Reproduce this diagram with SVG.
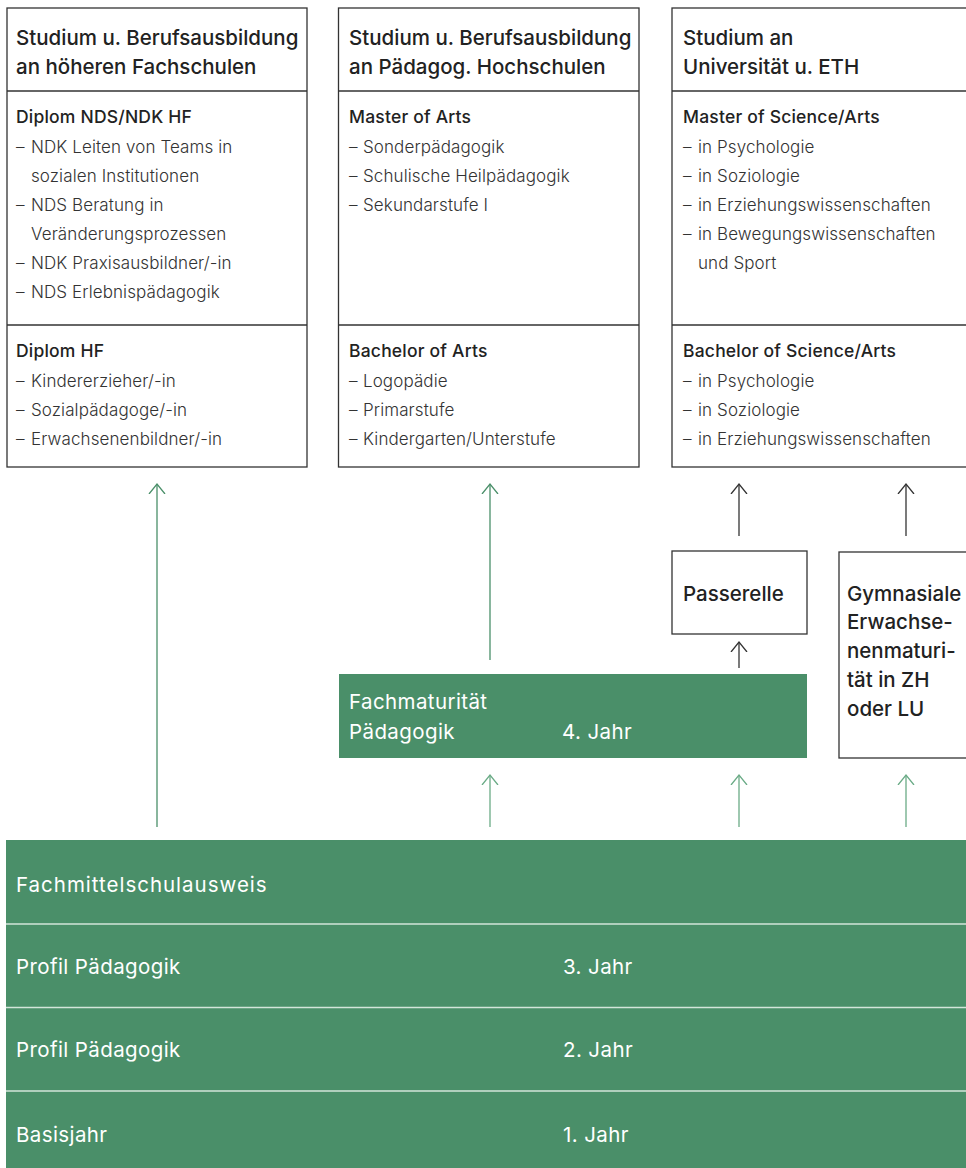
<svg xmlns="http://www.w3.org/2000/svg" width="966" height="1168" viewBox="0 0 966 1168">
<style>
.box{fill:#fff;stroke:#333;stroke-width:1.3}
.div{stroke:#333;stroke-width:1.3}
.ttl{font-family:Inter,"Liberation Sans",sans-serif;font-weight:500;font-size:20.5px;fill:#222}
.sub{font-family:Inter,"Liberation Sans",sans-serif;font-weight:500;font-size:17.5px;letter-spacing:0.2px;fill:#222}
.itm{font-family:Inter,"Liberation Sans",sans-serif;font-weight:300;font-size:17px;letter-spacing:0.1px;fill:#333}
.gtx{font-family:Inter,"Liberation Sans",sans-serif;font-weight:400;font-size:20.5px;letter-spacing:0.4px;fill:#fff}
.grn{fill:#4a8f69}
.sep{stroke:#d3e5da;stroke-width:1.5}
.ag{stroke:#4a8f69;stroke-width:1.3;fill:none}
.agl{stroke:#6aab86;stroke-width:1.3;fill:none}
.ab{stroke:#333;stroke-width:1.3;fill:none}
</style>
<defs>
<marker id="mg" markerUnits="userSpaceOnUse" viewBox="0 0 20 20" markerWidth="20" markerHeight="20" refX="10" refY="10" orient="auto"><path d="M0,2 L10,10 L0,18" fill="none" stroke="#4a8f69" stroke-width="1.3"/></marker>
<marker id="mgl" markerUnits="userSpaceOnUse" viewBox="0 0 20 20" markerWidth="20" markerHeight="20" refX="10" refY="10" orient="auto"><path d="M0,2 L10,10 L0,18" fill="none" stroke="#6aab86" stroke-width="1.3"/></marker>
<marker id="mb" markerUnits="userSpaceOnUse" viewBox="0 0 20 20" markerWidth="20" markerHeight="20" refX="10" refY="10" orient="auto"><path d="M0,2 L10,10 L0,18" fill="none" stroke="#333" stroke-width="1.3"/></marker>
</defs>

<g id="col-hf">
<rect class="box" x="7" y="8" width="300" height="459"/>
<line class="div" x1="7" y1="91" x2="307" y2="91"/>
<line class="div" x1="7" y1="325" x2="307" y2="325"/>
<text class="ttl" x="16" y="45">Studium u. Berufsausbildung</text>
<text class="ttl" x="16" y="74">an höheren Fachschulen</text>
<text class="sub" x="16" y="123">Diplom NDS/NDK HF</text>
<text class="itm" y="153"><tspan x="16">– </tspan><tspan x="31">NDK Leiten von Teams in</tspan></text>
<text class="itm" x="31" y="182">sozialen Institutionen</text>
<text class="itm" y="211"><tspan x="16">– </tspan><tspan x="31">NDS Beratung in</tspan></text>
<text class="itm" x="31" y="240">Veränderungsprozessen</text>
<text class="itm" y="269"><tspan x="16">– </tspan><tspan x="31">NDK Praxisausbildner/-in</tspan></text>
<text class="itm" y="298"><tspan x="16">– </tspan><tspan x="31">NDS Erlebnispädagogik</tspan></text>
<text class="sub" x="16" y="357">Diplom HF</text>
<text class="itm" y="387"><tspan x="16">– </tspan><tspan x="31">Kindererzieher/-in</tspan></text>
<text class="itm" y="416"><tspan x="16">– </tspan><tspan x="31">Sozialpädagoge/-in</tspan></text>
<text class="itm" y="445"><tspan x="16">– </tspan><tspan x="31">Erwachsenenbildner/-in</tspan></text>
</g>

<g id="col-ph">
<rect class="box" x="338.5" y="8" width="300.5" height="459"/>
<line class="div" x1="338.5" y1="91" x2="639" y2="91"/>
<line class="div" x1="338.5" y1="325" x2="639" y2="325"/>
<text class="ttl" x="349" y="45">Studium u. Berufsausbildung</text>
<text class="ttl" x="349" y="74">an Pädagog. Hochschulen</text>
<text class="sub" x="349" y="123">Master of Arts</text>
<text class="itm" y="153"><tspan x="349">– </tspan><tspan x="363">Sonderpädagogik</tspan></text>
<text class="itm" y="182"><tspan x="349">– </tspan><tspan x="363">Schulische Heilpädagogik</tspan></text>
<text class="itm" y="211"><tspan x="349">– </tspan><tspan x="363">Sekundarstufe I</tspan></text>
<text class="sub" x="349" y="357">Bachelor of Arts</text>
<text class="itm" y="387"><tspan x="349">– </tspan><tspan x="363">Logopädie</tspan></text>
<text class="itm" y="416"><tspan x="349">– </tspan><tspan x="363">Primarstufe</tspan></text>
<text class="itm" y="445"><tspan x="349">– </tspan><tspan x="363">Kindergarten/Unterstufe</tspan></text>
</g>

<g id="col-uni">
<rect class="box" x="672" y="8" width="310" height="459"/>
<line class="div" x1="672" y1="91" x2="966" y2="91"/>
<line class="div" x1="672" y1="325" x2="966" y2="325"/>
<text class="ttl" x="683" y="45">Studium an</text>
<text class="ttl" x="683" y="74">Universität u. ETH</text>
<text class="sub" x="683" y="123">Master of Science/Arts</text>
<text class="itm" y="153"><tspan x="683">– </tspan><tspan x="698">in Psychologie</tspan></text>
<text class="itm" y="182"><tspan x="683">– </tspan><tspan x="698">in Soziologie</tspan></text>
<text class="itm" y="211"><tspan x="683">– </tspan><tspan x="698">in Erziehungswissenschaften</tspan></text>
<text class="itm" y="240"><tspan x="683">– </tspan><tspan x="698">in Bewegungswissenschaften</tspan></text>
<text class="itm" x="698" y="269">und Sport</text>
<text class="sub" x="683" y="357">Bachelor of Science/Arts</text>
<text class="itm" y="387"><tspan x="683">– </tspan><tspan x="698">in Psychologie</tspan></text>
<text class="itm" y="416"><tspan x="683">– </tspan><tspan x="698">in Soziologie</tspan></text>
<text class="itm" y="445"><tspan x="683">– </tspan><tspan x="698">in Erziehungswissenschaften</tspan></text>
</g>

<g id="passerelle">
<rect class="box" x="672" y="551" width="135" height="83"/>
<text class="ttl" x="683" y="601">Passerelle</text>
</g>

<g id="gymnasiale">
<rect class="box" x="839" y="552" width="140" height="206"/>
<text class="ttl" x="847" y="601">Gymnasiale</text>
<text class="ttl" x="847" y="629">Erwachse-</text>
<text class="ttl" x="847" y="658">nenmaturi-</text>
<text class="ttl" x="847" y="687">tät in ZH</text>
<text class="ttl" x="847" y="716">oder LU</text>
</g>

<g id="fachmaturitaet">
<rect class="grn" x="339" y="674" width="468" height="84"/>
<text class="gtx" x="349" y="709">Fachmaturität</text>
<text class="gtx" x="349" y="739">Pädagogik</text>
<text class="gtx" x="562" y="739">4. Jahr</text>
</g>

<g id="fms-ausweis">
<rect class="grn" x="6" y="840" width="960" height="84"/>
<text class="gtx" x="16" y="892" textLength="251" lengthAdjust="spacing">Fachmittelschulausweis</text>
</g>
<g id="jahr3">
<rect class="grn" x="6" y="924" width="960" height="83"/>
<text class="gtx" x="16" y="974">Profil Pädagogik</text>
<text class="gtx" x="563" y="974">3. Jahr</text>
</g>
<g id="jahr2">
<rect class="grn" x="6" y="1007" width="960" height="84"/>
<text class="gtx" x="16" y="1057">Profil Pädagogik</text>
<text class="gtx" x="563" y="1057">2. Jahr</text>
</g>
<g id="jahr1">
<rect class="grn" x="6" y="1091" width="960" height="77"/>
<text class="gtx" x="16" y="1142">Basisjahr</text>
<text class="gtx" x="563" y="1142">1. Jahr</text>
</g>
<g id="separators">
<line class="sep" x1="6" y1="924" x2="966" y2="924"/>
<line class="sep" x1="6" y1="1007.5" x2="966" y2="1007.5"/>
<line class="sep" x1="6" y1="1091" x2="966" y2="1091"/>
</g>

<g id="connectors">
<line class="ag" x1="157" y1="827" x2="157" y2="484" marker-end="url(#mg)"/>
<line class="ag" x1="490" y1="660" x2="490" y2="484" marker-end="url(#mg)"/>
<line class="agl" x1="490" y1="827" x2="490" y2="775" marker-end="url(#mgl)"/>
<line class="agl" x1="739" y1="827" x2="739" y2="775" marker-end="url(#mgl)"/>
<line class="agl" x1="906" y1="827" x2="906" y2="775" marker-end="url(#mgl)"/>
<line class="ab" x1="739" y1="536" x2="739" y2="484" marker-end="url(#mb)"/>
<line class="ab" x1="906" y1="536" x2="906" y2="484" marker-end="url(#mb)"/>
<line class="ab" x1="739" y1="668" x2="739" y2="642" marker-end="url(#mb)"/>
</g>
</svg>
